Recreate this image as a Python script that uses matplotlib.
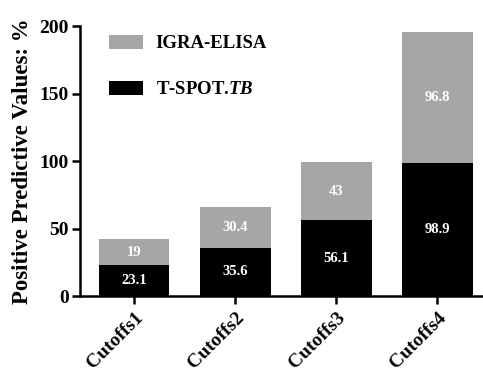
import numpy as np
import matplotlib
matplotlib.use("Agg")
import matplotlib.pyplot as plt

plt.rcParams["font.family"] = ["Liberation Serif", "DejaVu Serif"]
plt.rcParams["font.weight"] = "bold"
plt.rcParams["mathtext.fontset"] = "custom"
plt.rcParams["mathtext.it"] = "Liberation Serif:bold:italic"
plt.rcParams["mathtext.rm"] = "Liberation Serif:bold"

categories = ["Cutoffs1", "Cutoffs2", "Cutoffs3", "Cutoffs4"]
tspot = [23.1, 35.6, 56.1, 98.9]
igra = [19, 30.4, 43, 96.8]
tspot_labels = ["23.1", "35.6", "56.1", "98.9"]
igra_labels = ["19", "30.4", "43", "96.8"]

fig = plt.figure(figsize=(4.83, 3.73), dpi=100)
ax = fig.add_axes([0.1656, 0.2064, 0.834, 0.7238])

x = np.arange(len(categories))
b1 = ax.bar(x, tspot, width=0.7, color="black", label="T-SPOT.$\\mathit{TB}$")
b2 = ax.bar(x, igra, width=0.7, bottom=tspot, color="#a6a6a6", label="IGRA-ELISA")

ax.bar_label(b1, labels=tspot_labels, label_type="center", color="white",
             fontsize=10.5, fontweight="bold")
ax.bar_label(b2, labels=igra_labels, label_type="center", color="white",
             fontsize=10.5, fontweight="bold")

ax.set_xlim(-0.535, 3.45)
ax.set_ylim(0, 200)
ax.set_yticks([0, 50, 100, 150, 200])
ax.set_xticks(x)
ax.set_xticklabels(categories, rotation=45, ha="right", rotation_mode="anchor",
                   fontsize=14, fontweight="bold")
ax.tick_params(axis="y", labelsize=14, width=1.8, length=6, direction="out", pad=2)
ax.tick_params(axis="x", width=1.8, length=6, direction="out")
for lab in ax.get_yticklabels():
    lab.set_fontweight("bold")
ax.set_ylabel("Positive Predictive Values: %", fontsize=16.5, fontweight="bold", labelpad=5)

ax.spines["top"].set_visible(False)
ax.spines["right"].set_visible(False)
ax.spines["left"].set_linewidth(1.8)
ax.spines["bottom"].set_linewidth(1.8)

handles, labels = ax.get_legend_handles_labels()
ax.legend(handles[::-1], labels[::-1], loc="upper left", bbox_to_anchor=(0.03, 1.03),
          frameon=False, fontsize=13.5, labelspacing=1.5, handlelength=1.8,
          handleheight=0.8, handletextpad=0.7)

fig.savefig("out.png", dpi=100)
